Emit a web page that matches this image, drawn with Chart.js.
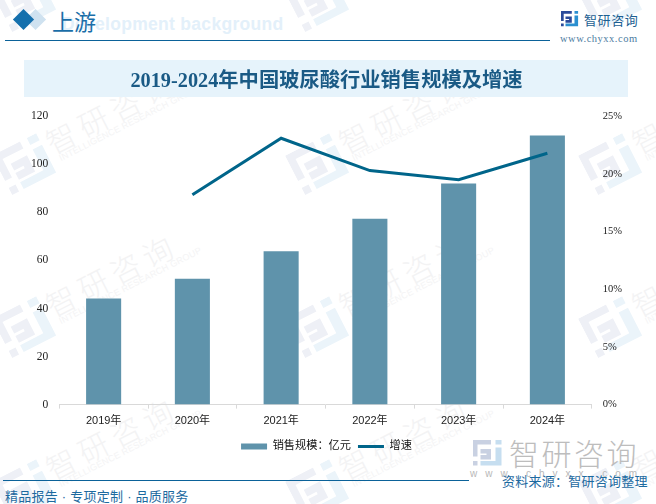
<!DOCTYPE html>
<html>
<head>
<meta charset="utf-8">
<script src="https://cdn.jsdelivr.net/npm/chart.js@4"></script>
<style>
  html, body { margin: 0; padding: 0; background: #fff; }
  #page { position: relative; width: 656px; height: 504px; overflow: hidden; font-family: "Liberation Sans", "Noto Sans CJK SC", sans-serif; }
  #page div, #page svg { position: absolute; white-space: nowrap; }
  canvas { position: absolute; left: 0; top: 0; }
  .wm { color: #f3f3f4; font-size: 30px; line-height: 30px; letter-spacing: 6px; transform: rotate(-27deg); transform-origin: left bottom; font-family: "Noto Sans CJK SC"; font-weight: 300; }
  .wm-sub { color: #f4f4f5; font-size: 9px; line-height: 10px; letter-spacing: 0.2px; transform: rotate(-27deg); transform-origin: left bottom; }
  .dark { fill: var(--a); }
  .light { fill: var(--b); }
</style>
</head>
<body>
<div id="page">
  <svg width="0" height="0">
    <defs>
      <g id="logo">
        <path class="dark" d="M0 0H12V3H3V11H0Z M5 6H12V13H5V10H9V9H5Z M0 14H3V17H0Z" />
        <path class="light" d="M15 0H19V3H15Z M15 5H19V17H5V14H15Z" />
      </g>
    </defs>
  </svg>
  <div id="watermarks"></div>

  <!-- header -->
  <div style="left:28px;top:12px;width:15px;height:15px;background:#cfe2f0;transform:rotate(45deg)"></div>
  <div style="left:16px;top:12px;width:15px;height:15px;background:#1570ad;transform:rotate(45deg)"></div>
  <div style="left:62px;top:14px;font:bold 17.5px 'Liberation Sans';color:#e3f0fa;letter-spacing:0.3px">Development background</div>
  <div style="left:52px;top:4px;font:22px 'Liberation Serif','Noto Sans CJK SC';color:#1a6ea8">上游</div>
  <div style="left:5px;top:40px;width:545px;height:1px;background:#0b6299"></div>
  <svg style="left:561px;top:11px;--a:#2a4a9a;--b:#2a8fd0" width="18" height="18" viewBox="0 0 20 20"><use href="#logo"/></svg>
  <div style="left:584px;top:10px;font-size:13px;letter-spacing:0.6px;color:#1d5f92">智研咨询</div>
  <div style="left:560px;top:33px;font:10.5px 'Liberation Serif';letter-spacing:0.5px;color:#4c7c9f">www.chyxx.com</div>

  <!-- title band -->
  <div style="left:24px;top:60px;width:604px;height:37px;background:#e6f3fb"></div>

  <!-- footer -->
  <svg style="left:473px;top:440px;--a:#c9d1e2;--b:#c6def0" width="30" height="30" viewBox="0 0 20 20"><use href="#logo"/></svg>
  <div style="left:509px;top:430px;font-size:30px;letter-spacing:2.5px;color:#bdbdbd;font-weight:300">智研咨询</div>
  <div style="left:470px;top:468px;font-size:10px;letter-spacing:8px;color:#b8b8b8">www.chyxx.com</div>
  <div style="left:3px;top:480px;width:466px;height:1px;background:#0b6299"></div>
  <div style="left:5px;top:486px;font-size:13px;letter-spacing:0.25px;color:#1d6a9f">精品报告 · 专项定制 · 品质服务</div>
  <div style="left:502px;top:471px;font-size:13px;letter-spacing:0.25px;color:#1d6a9f">资料来源：智研咨询整理</div>

  <canvas id="salesChart" width="656" height="504"></canvas>
</div>

<script>
const years = ["2019年", "2020年", "2021年", "2022年", "2023年", "2024年"];
const salesValues = [44.2, 52.4, 63.8, 77.4, 92, 112];
const growthValues = [null, 18.2, 23.1, 20.3, 19.5, 21.8];
const salesTicks = [0, 20, 40, 60, 80, 100, 120];
const growthTicks = [0, 5, 10, 15, 20, 25];

// pale logo + company name repeated behind the chart
const wmCols = [0, 293, 586];
const wmRows = [-6, 157, 320, 483];
const wmHolder = document.getElementById("watermarks");
wmCols.forEach(function (cx) {
  wmRows.forEach(function (ry) {
    wmHolder.insertAdjacentHTML("beforeend",
      '<div class="wm" style="left:' + (cx + 54) + 'px;top:' + (ry - 30) + 'px">智研咨询</div>' +
      '<div class="wm-sub" style="left:' + (cx + 62) + 'px;top:' + (ry - 4) + 'px">INTELLIGENCE RESEARCH GROUP</div>' +
      '<svg style="--a:#eef0f6;--b:#ebf4fa;left:' + (cx + 1) + 'px;top:' + (ry - 16) + 'px;transform:rotate(-27deg)" width="52" height="52" viewBox="0 0 20 20"><use href="#logo"/></svg>');
  });
});

const ctx = document.getElementById("salesChart").getContext("2d");
new Chart(ctx, {
  data: {
    labels: years,
    datasets: [
      {
        type: "bar",
        label: "销售规模：亿元",
        data: salesValues,
        backgroundColor: "#5f93ab",
        yAxisID: "y",
        barPercentage: 0.395,
        categoryPercentage: 1,
        pointStyle: "rect",
        order: 2,
      },
      {
        type: "line",
        label: "增速",
        data: growthValues,
        borderColor: "#00658a",
        backgroundColor: "#00658a",
        borderWidth: 3,
        pointRadius: 0,
        pointStyle: "line",
        tension: 0,
        yAxisID: "y1",
        order: 1,
      },
    ],
  },
  options: {
    responsive: false,
    animation: false,
    layout: { padding: { top: 70, left: 28, right: 31, bottom: 42 } },
    plugins: {
      title: {
        display: true,
        text: "2019-2024年中国玻尿酸行业销售规模及增速",
        color: "#1a5a85",
        font: { family: "'Liberation Serif', 'Noto Sans CJK SC'", size: 20.3, weight: "bold" },
        padding: { top: 0, bottom: 22 },
      },
      legend: {
        position: "bottom",
        labels: {
          usePointStyle: true,
          pointStyleWidth: 26,
          boxHeight: 6,
          padding: 7,
          color: "#111",
          font: { family: "'Liberation Sans', 'Noto Sans CJK SC'", size: 11.2 },
          sort: (a, b) => a.datasetIndex - b.datasetIndex,
        },
      },
      tooltip: { enabled: false },
    },
    scales: {
      x: {
        grid: { display: true, drawOnChartArea: false, drawTicks: true, tickColor: "#d9d9d9", tickLength: 4, offset: true },
        border: { color: "#d9d9d9" },
        ticks: { color: "#222", font: { family: "'Liberation Sans', 'Noto Sans CJK SC'", size: 11 }, padding: 6, maxRotation: 0 },
      },
      y: {
        position: "left",
        min: 0,
        max: 120,
        afterBuildTicks: function (axis) { axis.ticks = salesTicks.map((v) => ({ value: v })); },
        grid: { display: false },
        border: { display: false },
        ticks: { color: "#222", font: { family: "'Liberation Serif'", size: 11.5 }, padding: 3 },
      },
      y1: {
        position: "right",
        min: 0,
        max: 25,
        afterBuildTicks: function (axis) { axis.ticks = growthTicks.map((v) => ({ value: v })); },
        grid: { display: false },
        border: { display: false },
        ticks: { color: "#222", font: { family: "'Liberation Serif'", size: 10.5 }, padding: 3, callback: (v) => v + "%" },
      },
    },
  },
});
</script>
</body>
</html>
